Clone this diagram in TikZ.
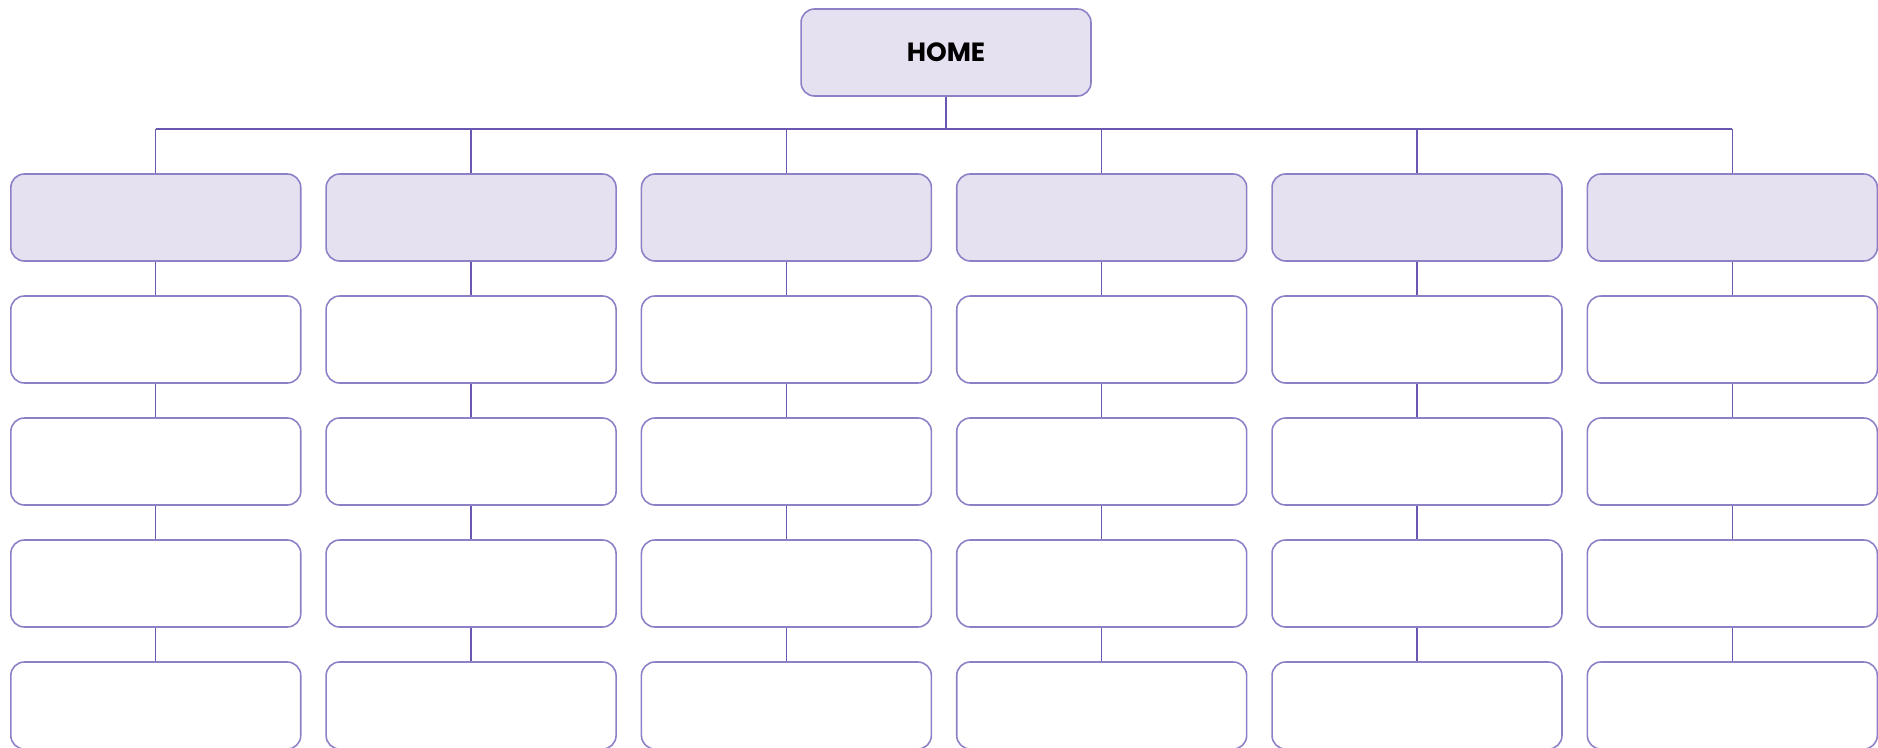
\documentclass[tikz,border=0pt]{standalone}
\usepackage{fontspec}
\newfontfamily\homefont{Poppins}
\definecolor{boxfill}{HTML}{E5E1F1}
\definecolor{boxline}{HTML}{8E80C6}
\definecolor{linkline}{HTML}{6A57B2}

\begin{document}
\begin{tikzpicture}[x=0.02cm, y=-0.02cm,
  pagebox/.style={draw=boxline, line width=0.9pt, rounded corners=0.27cm,
    minimum width=5.8cm, minimum height=1.74cm, inner sep=0pt},
  topbox/.style={pagebox, fill=boxfill},
  link/.style={draw=linkline, line width=0.75pt}]
  % Canvas
  \useasboundingbox (0,0) rectangle (1878,747);
  \clip (0,0) rectangle (1878,747);

  % Home page
  \node[topbox, font=\homefont\bfseries\fontsize{15}{18}\selectfont] (home) at (946,52.5) {HOME};
  \coordinate (bus) at (0,129);

  % Sections and their pages
  \foreach \c in {1,...,6} {
    \node[topbox] (s\c-1) at ({155.8+315.3*(\c-1)},217.5) {};
    \foreach \r [remember=\r as \p (initially 1)] in {2,...,5} {
      \node[pagebox] (s\c-\r) at ({155.8+315.3*(\c-1)},{217.5+122*(\r-1)}) {};
      \draw[link] (s\c-\p.south) -- (s\c-\r.north);
    }
    \draw[link] (s\c-1.north) -- (s\c-1.north |- bus);
  }

  % Bus from home to the sections
  \draw[link] (home.south) -- (home.south |- bus);
  \draw[link] (s1-1.north |- bus) -- (s6-1.north |- bus);
\end{tikzpicture}
\end{document}
